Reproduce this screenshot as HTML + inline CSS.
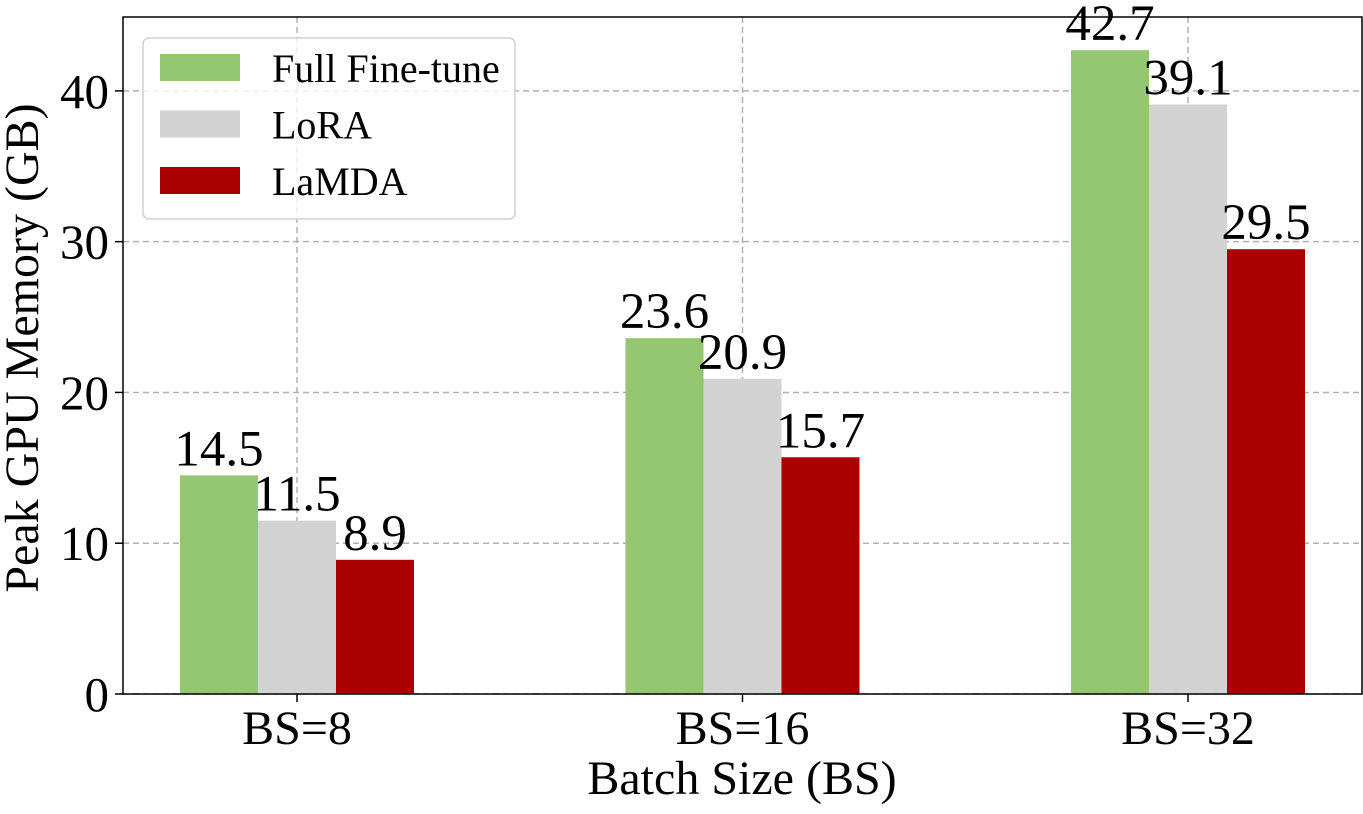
<!DOCTYPE html>
<html><head><meta charset="utf-8"><style>
body{margin:0;background:#fff}
svg text{font-family:"Liberation Serif",serif;fill:#000}
</style></head><body>
<svg id="chart" width="1363" height="809" xmlns="http://www.w3.org/2000/svg"></svg>
<script>
const categories=["BS=8","BS=16","BS=32"];
const seriesNames=["Full Fine-tune","LoRA","LaMDA"];
const fullFT=[14.5,23.6,42.7];
const lora=[11.5,20.9,39.1];
const lamda=[8.9,15.7,29.5];
const yTicks=[0,10,20,30,40];
const colors=["#95c672","#d3d3d3","#aa0000"];
const L=123,R=1362,T=17,B=694,yMax=44.9;
const y=v=>B-v/yMax*(B-T);
const xc=i=>297+i*445.5;
const bw=78;
const svg=document.getElementById('chart');
const NS="http://www.w3.org/2000/svg";
function mk(t,a,p){const e=document.createElementNS(NS,t);for(const k in a)e.setAttribute(k,a[k]);(p||svg).appendChild(e);return e;}
yTicks.forEach(v=>{
 const g=mk('line',{x1:L,x2:R,y1:y(v),y2:y(v),stroke:'#b0b0b0','stroke-dasharray':'6,4','stroke-width':1.5});
 
 
 mk('line',{x1:L-8,x2:L,y1:y(v),y2:y(v),stroke:'#000','stroke-width':1.5});
 const t=mk('text',{x:L-14,y:y(v)+17,'text-anchor':'end','font-size':49});t.textContent=v;
 
 
});
categories.forEach((c,i)=>{
 const g=mk('line',{x1:xc(i),x2:xc(i),y1:T,y2:B,stroke:'#b0b0b0','stroke-dasharray':'6,4','stroke-width':1.5});
 
 
 mk('line',{x1:xc(i),x2:xc(i),y1:B,y2:B+8,stroke:'#000','stroke-width':1.5});
 const t=mk('text',{x:xc(i),y:744,'text-anchor':'middle','font-size':48});t.textContent=c;
 
 
});
const all=[fullFT,lora,lamda];
all.forEach((arr,s)=>{
 arr.forEach((v,i)=>{
  const x0=xc(i)-1.5*bw+s*bw;
  const r=mk('rect',{x:x0,y:y(v),width:bw,height:B-y(v),fill:colors[s]});
  
  
 });
});
all.forEach((arr,s)=>{
 arr.forEach((v,i)=>{
  const x0=xc(i)-1.5*bw+s*bw;
  const t=mk('text',{x:x0+bw/2,y:y(v)-10,'text-anchor':'middle','font-size':51});t.textContent=v.toFixed(1);
  
  
 });
});
const fr=mk('rect',{x:L,y:T,width:R-L,height:B-T,fill:'none',stroke:'#000','stroke-width':1.5});


const lg=mk('g',{});


mk('rect',{x:143,y:38,width:372,height:181,rx:6,fill:'#fff','fill-opacity':0.8,stroke:'#d0d0d0','stroke-width':1.5},lg);
seriesNames.forEach((n,s)=>{
 const g=mk('g',{},lg);
 
 
 mk('rect',{x:160,y:54+s*56.5,width:80,height:27,fill:colors[s]},g);
 const t=mk('text',{x:272,y:82+s*56.5,'font-size':40},g);t.textContent=n;
});
const xt=mk('text',{x:742,y:794,'text-anchor':'middle','font-size':48});xt.textContent='Batch Size (BS)';


const yt=mk('text',{x:0,y:0,'text-anchor':'middle','font-size':48,transform:'translate(38,348) rotate(-90)'});yt.textContent='Peak GPU Memory (GB)';


</script>
</body></html>
